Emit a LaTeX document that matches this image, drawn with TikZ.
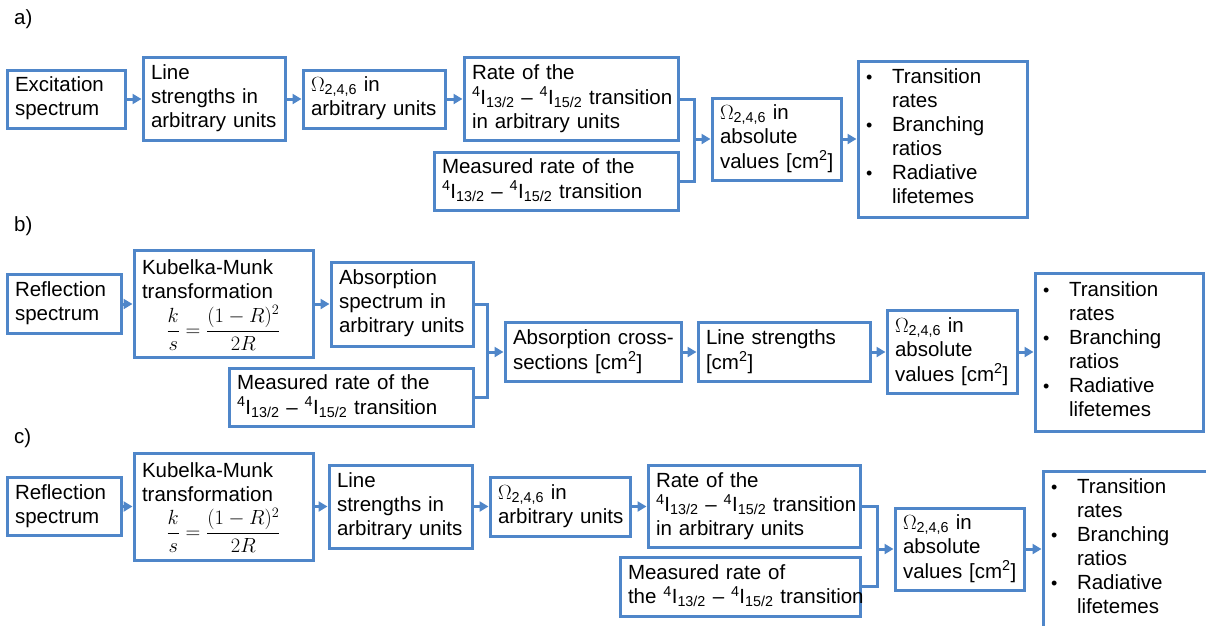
\RequirePackage{fix-cm}
\documentclass[tikz,border=0pt]{standalone}
\usepackage{fontspec}
\setmainfont{Liberation Sans}
\usepackage{amsmath}
\usetikzlibrary{arrows.meta}
\definecolor{boxblue}{RGB}{79,134,201}
\newcommand{\omg}{$\Omega$\textsubscript{2,4,6}}
\newcommand{\Itrans}{\textsuperscript{4}I\textsubscript{13/2} -- \textsuperscript{4}I\textsubscript{15/2}}
\newcommand{\boxtext}[1]{\begin{tabular}{@{}l@{}}#1\end{tabular}}
\newcommand{\bul}{\makebox[26pt][l]{\fontsize{18}{18}\selectfont\textbullet}}
\newcommand{\ind}{\hspace*{26pt}}
\newcommand{\kmtext}{\boxtext{Kubelka-Munk\\transformation\\\makebox[163pt][c]{$\dfrac{k}{s}=\dfrac{(1-R)^2}{2R}$}}}
\newcommand{\restext}{\boxtext{\bul Transition\\\ind rates\\\bul Branching\\\ind ratios\\\bul Radiative\\\ind lifetemes}}
\begin{document}
\begin{tikzpicture}[x=1pt, y=-1pt, font=\fontsize{20.5}{24}\selectfont,
    box/.style={draw=boxblue, line width=3pt, inner xsep=8pt, inner ysep=0pt, align=left},
    link/.style={draw=boxblue, line width=3pt},
    arr/.style={link, -{Triangle[length=9pt,width=10pt]}}]
    \useasboundingbox (0,0) rectangle (1206,625);
    \clip (0,0) rectangle (1206,625);

    % a) excitation spectrum route
    \node[anchor=west, inner sep=0pt] (la) at (14,19) {a)};
    \node[box, text width=102pt, minimum height=58pt] (exc) at (66,99) {\boxtext{Excitation\\spectrum}};
    \node[box, text width=126pt, minimum height=83pt] (lsa) at (214,99) {\boxtext{Line\\strengths in\\arbitrary units}};
    \node[box, text width=126pt, minimum height=58pt] (omarb) at (374,99) {\boxtext{\omg{} in\\arbitrary units}};
    \node[box, text width=198pt, minimum height=83pt] (rate) at (571,99) {\boxtext{Rate of the\\\Itrans{} transition\\in arbitrary units}};
    \node[box, text width=228pt, minimum height=58pt] (meas) at (556,181) {\boxtext{Measured rate of the\\\Itrans{} transition}};
    \coordinate (ja) at (694,139);
    \node[box, text width=113pt, minimum height=82pt] (omabs) at (776.5,139) {\boxtext{\omg{} in\\absolute\\values [cm\textsuperscript{2}]}};
    \node[box, text width=153pt, minimum height=156pt] (res) at (942.5,139) {\restext};

    \draw[arr] (exc) -- (lsa);
    \draw[arr] (lsa) -- (omarb);
    \draw[arr] (omarb) -- (rate);
    \draw[link] (rate.east) -| (ja) |- (meas.east);
    \draw[arr] (ja) -- (omabs);
    \draw[arr] (omabs) -- (res);

    % b) reflection spectrum via absorption cross-sections
    \node[anchor=west, inner sep=0pt] (lb) at (14,226) {b)};
    \node[box, text width=98pt, minimum height=59pt] (refl) at (64,304) {\boxtext{Reflection\\spectrum}};
    \node[box, text width=163pt, minimum height=107pt] (km) at (223.5,304) {\kmtext};
    \node[box, text width=126pt, minimum height=84pt] (abs) at (402,304) {\boxtext{Absorption\\spectrum in\\arbitrary units}};
    \node[box, text width=228pt, minimum height=58pt] (measb) at (351,397) {\boxtext{Measured rate of the\\\Itrans{} transition}};
    \coordinate (jb) at (487,352);
    \node[box, text width=160pt, minimum height=59pt] (xsec) at (593,352) {\boxtext{Absorption cross-\\sections [cm\textsuperscript{2}]}};
    \node[box, text width=156pt, minimum height=59pt] (lsb) at (784,352) {\boxtext{Line strengths\\\relax[cm\textsuperscript{2}]}};
    \node[box, text width=114pt, minimum height=83pt] (omabsb) at (952,352) {\boxtext{\omg{} in\\absolute\\values [cm\textsuperscript{2}]}};
    \node[box, text width=152pt, minimum height=158pt] (resb) at (1119,352) {\restext};

    \draw[arr] (refl) -- (km);
    \draw[arr] (km) -- (abs);
    \draw[link] (abs.east) -| (jb) |- (measb.east);
    \draw[arr] (jb) -- (xsec);
    \draw[arr] (xsec) -- (lsb);
    \draw[arr] (lsb) -- (omabsb);
    \draw[arr] (omabsb) -- (resb);

    % c) reflection spectrum via line strengths
    \node[anchor=west, inner sep=0pt] (lc) at (14,438) {c)};
    \node[box, text width=98pt, minimum height=58pt] (reflc) at (64,506.5) {\boxtext{Reflection\\spectrum}};
    \node[box, text width=163pt, minimum height=107pt] (kmc) at (223.5,506.5) {\kmtext};
    \node[box, text width=127pt, minimum height=83pt] (lsc) at (400.5,506.5) {\boxtext{Line\\strengths in\\arbitrary units}};
    \node[box, text width=124pt, minimum height=59pt] (omarbc) at (560,506.5) {\boxtext{\omg{} in\\arbitrary units}};
    \node[box, text width=196pt, minimum height=82pt] (ratec) at (754,506.5) {\boxtext{Rate of the\\\Itrans{} transition\\in arbitrary units}};
    \node[box, text width=224pt, minimum height=59pt] (measc) at (740,586.5) {\boxtext{Measured rate of\\the \Itrans{} transition}};
    \coordinate (jc) at (877,549);
    \node[box, text width=113pt, minimum height=82pt] (omabsc) at (959.5,549) {\boxtext{\omg{} in\\absolute\\values [cm\textsuperscript{2}]}};
    \node[box, text width=152pt, minimum height=156pt] (resc) at (1127,549) {\restext};

    \draw[arr] (reflc) -- (kmc);
    \draw[arr] (kmc) -- (lsc);
    \draw[arr] (lsc) -- (omarbc);
    \draw[arr] (omarbc) -- (ratec);
    \draw[link] (ratec.east) -| (jc) |- (measc.east);
    \draw[arr] (jc) -- (omabsc);
    \draw[arr] (omabsc) -- (resc);
\end{tikzpicture}
\end{document}
